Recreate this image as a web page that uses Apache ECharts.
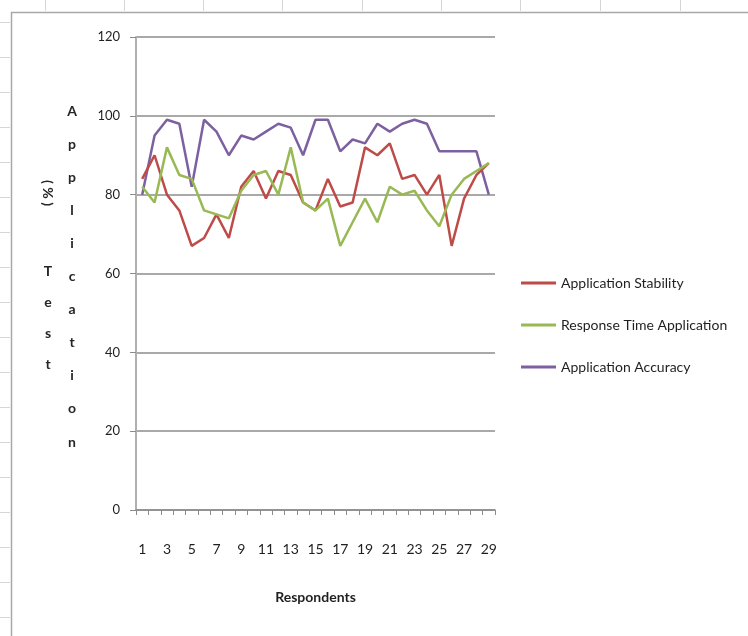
<!DOCTYPE html>
<html>
<head>
<meta charset="utf-8">
<script src="https://cdn.jsdelivr.net/npm/echarts@6/dist/echarts.min.js"></script>
<style>
html,body{margin:0;padding:0;background:#fff;}
#chart{width:748px;height:636px;}
</style>
</head>
<body>
<div id="chart"></div>
<script>
const categories = ['1','2','3','4','5','6','7','8','9','10','11','12','13','14','15','16','17','18','19','20','21','22','23','24','25','26','27','28','29'];
const stability = [84,90,80,76,67,69,75,69,82,86,79,86,85,78,76,84,77,78,92,90,93,84,85,80,85,67,79,85,88];
const responseTime = [82,78,92,85,84,76,75,74,81,85,86,80,92,78,76,79,67,73,79,73,82,80,81,76,72,80,84,86,88];
const accuracy = [80,95,99,98,82,99,96,90,95,94,96,98,97,90,99,99,91,94,93,98,96,98,99,98,91,91,91,91,80];
const seriesNames = ['Application Stability','Response Time Application','Application Accuracy'];
const yTitleRight = ['A','p','p','l','i','c','a','t','i','o','n'];
const yTitleLeft = ['T','e','s','t'];
const xTitle = 'Respondents';

const FONT = 'Lato, "Open Sans", sans-serif';
const chart = echarts.init(document.getElementById('chart'));

const graphics = [];
// chart-area border
graphics.push({type:'rect', shape:{x:11.5,y:12.5,width:760,height:660}, style:{fill:'none', stroke:'#a8a8a8', lineWidth:1.5}, silent:true, z:-1});
// faint spreadsheet lines behind
[45,124,203,282,362,441,520,600,680].forEach(x=>{
  graphics.push({type:'line', shape:{x1:x+0.5,y1:0,x2:x+0.5,y2:11}, style:{stroke:'#d6d6d6', lineWidth:1}, silent:true});
});
for (let y=22; y<636; y+=35) {
  graphics.push({type:'line', shape:{x1:0,y1:y+0.5,x2:10,y2:y+0.5}, style:{stroke:'#d6d6d6', lineWidth:1}, silent:true});
}
// stacked y-axis title
yTitleRight.forEach((ch,i)=>{
  graphics.push({type:'text', x:72, y:111 + i*33.1, style:{text:ch, font:'bold 14px '+FONT, fill:'#262626', align:'center', verticalAlign:'middle'}});
});
yTitleLeft.forEach((ch,i)=>{
  graphics.push({type:'text', x:48, y:271 + i*31, style:{text:ch, font:'bold 14px '+FONT, fill:'#262626', align:'center', verticalAlign:'middle'}});
});
graphics.push({type:'text', x:48, y:193, rotation:-Math.PI/2, style:{text:'( % )', font:'bold 14px '+FONT, fill:'#262626', align:'center', verticalAlign:'middle'}});

chart.setOption({
  animation:false,
  backgroundColor:'#ffffff',
  textStyle:{fontFamily:FONT},
  grid:{left:136, right:253, top:37, bottom:126},
  legend:{
    orient:'vertical', left:516, top:269,
    itemWidth:35, itemHeight:3, itemGap:24, icon:'rect',
    textStyle:{fontSize:14, color:'#1f1f1f', lineHeight:18, fontFamily:FONT},
    data:seriesNames
  },
  xAxis:{
    type:'category', data:categories, boundaryGap:true,
    name:xTitle, nameLocation:'middle', nameGap:80,
    nameTextStyle:{fontSize:14, fontWeight:'bold', color:'#1f1f1f'},
    axisLine:{lineStyle:{color:'#8c8c8c', width:1.5}},
    axisTick:{show:true, interval:0, length:5, lineStyle:{color:'#8c8c8c'}},
    axisLabel:{interval:1, margin:32, fontSize:14, color:'#1f1f1f'},
    splitLine:{show:false}
  },
  yAxis:{
    type:'value', min:0, max:120, interval:20,
    axisLine:{show:true, lineStyle:{color:'#b0b0b0', width:2}},
    axisTick:{show:true, length:6, lineStyle:{color:'#8c8c8c'}},
    axisLabel:{margin:16, fontSize:13, color:'#1f1f1f'},
    splitLine:{lineStyle:{color:'#8c8c8c', width:1.5}}
  },
  series:[
    {name:seriesNames[0], type:'line', data:stability, symbol:'none', lineStyle:{width:2.5, color:'#BE4B48'}, itemStyle:{color:'#BE4B48'}, z:3},
    {name:seriesNames[1], type:'line', data:responseTime, symbol:'none', lineStyle:{width:2.5, color:'#98B954'}, itemStyle:{color:'#98B954'}, z:4},
    {name:seriesNames[2], type:'line', data:accuracy, symbol:'none', lineStyle:{width:2.5, color:'#7D60A0'}, itemStyle:{color:'#7D60A0'}, z:2}
  ],
  graphic:graphics
});
</script>
</body>
</html>
